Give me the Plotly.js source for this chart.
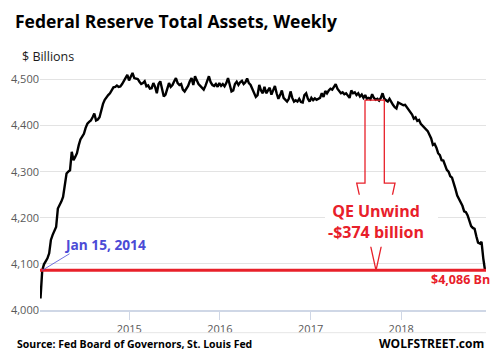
<!DOCTYPE html>
<html>
<head>
<meta charset="utf-8">
<script src="https://cdn.plot.ly/plotly-3.0.1.min.js"></script>
<style>html,body{margin:0;padding:0;background:#fff;}#chart{width:495px;height:358px;}</style>
</head>
<body>
<div id="chart"></div>
<script>
// Weekly Fed total assets ($ billions), Wednesdays starting 2014-01-08
const firstWeek = '2014-01-08';
const totalAssets = [
4025,4086,4099,4105,4112,4123,4152,4163,4172,4180,
4220,4226,4235,4245,4275,4296,4300,4303,4343,4325,
4332,4340,4357,4370,4376,4382,4395,4404,4408,4411,
4418,4426,4411,4413,4418,4436,4447,4456,4462,4466,
4470,4477,4483,4484,4487,4484,4485,4490,4496,4504,
4510,4498,4505,4514,4503,4502,4501,4495,4490,4492,
4496,4485,4487,4480,4481,4492,4484,4470,4490,4496,
4478,4463,4467,4481,4492,4484,4488,4496,4503,4492,
4488,4490,4478,4474,4480,4486,4496,4503,4488,4507,
4498,4490,4486,4481,4478,4486,4496,4507,4494,4488,
4486,4490,4484,4492,4486,4490,4485,4492,4503,4488,
4474,4476,4490,4495,4488,4494,4497,4490,4494,4502,
4492,4488,4478,4470,4462,4466,4488,4476,4470,4484,
4470,4476,4482,4467,4475,4486,4470,4458,4466,4476,
4460,4456,4452,4458,4474,4460,4452,4455,4452,4458,
4451,4450,4466,4470,4458,4452,4460,4455,4459,4456,
4458,4460,4470,4462,4475,4470,4476,4480,4478,4484,
4490,4480,4476,4470,4472,4468,4470,4464,4460,4476,
4470,4472,4466,4470,4463,4467,4460,4466,4458,4460,
4457,4468,4460,4456,4458,4454,4460,4470,4458,4455,
4452,4458,4450,4445,4440,4437,4450,4448,4446,4444,
4445,4440,4436,4430,4424,4415,4418,4410,4412,4404,
4400,4396,4390,4388,4380,4372,4358,4360,4352,4340,
4336,4325,4324,4314,4304,4300,4290,4287,4276,4262,
4248,4240,4232,4226,4214,4212,4205,4192,4182,4178,
4176,4160,4146,4144,4148,4112,4086
];
const yTicks = [4000, 4100, 4200, 4300, 4400, 4500];
const yTickText = ['4,000', '4,100', '4,200', '4,300', '4,400', '4,500'];
const startLabel = 'Jan 15, 2014';
const startDate = '2014-01-15';
const latestLevel = 4086;
const peakLevel = 4455;
const unwindText = 'QE Unwind<br>-$374 billion';
const latestText = '$4,086 Bn';

function addDays(iso, n) {
  const d = new Date(iso + 'T00:00:00Z');
  d.setUTCDate(d.getUTCDate() + n);
  return d.toISOString().slice(0, 10);
}
const weekDates = totalAssets.map((_, i) => addDays(firstWeek, 7 * i));

const RED = '#e8202a';
const FONT = '"Open Sans", "Noto Sans", sans-serif';

const trace = {
  x: weekDates, y: totalAssets, type: 'scatter', mode: 'lines',
  line: {color: '#000000', width: 2.4}, hoverinfo: 'skip'
};

const layout = {
  width: 495, height: 358,
  margin: {l: 40, r: 9, t: 61, b: 48},
  paper_bgcolor: '#ffffff', plot_bgcolor: '#ffffff',
  showlegend: false,
  font: {family: FONT, color: '#595959'},
  title: {
    text: '<b>Federal Reserve Total Assets, Weekly</b>',
    font: {family: FONT, size: 17.5, color: '#000000'},
    x: 15 / 495, xanchor: 'left', xref: 'container',
    y: 1 - 22 / 358, yanchor: 'middle', yref: 'container'
  },
  xaxis: {
    type: 'date', range: ['2014-01-06', '2018-12-09'],
    tick0: '2015-01-01', dtick: 'M12', tickformat: '%Y',
    ticks: 'outside', ticklen: 8, tickcolor: '#cfd7e6', tickwidth: 1,
    showline: true, linecolor: '#cfd7e6', linewidth: 1.5,
    showgrid: false, zeroline: false,
    tickfont: {family: FONT, size: 11, color: '#595959'}
  },
  yaxis: {
    range: [4000, 4540], tickvals: yTicks, ticktext: yTickText,
    showgrid: true, gridcolor: '#e3e3e3', gridwidth: 1,
    zeroline: false, showline: false, ticks: '',
    tickfont: {family: FONT, size: 11, color: '#595959'}
  },
  shapes: [
    {type: 'line', xref: 'paper', yref: 'paper', x0: 0, x1: 1, y0: -0.091, y1: -0.091,
     line: {color: '#e6e6e6', width: 1}, layer: 'above'},
    {type: 'line', xref: 'paper', yref: 'y', x0: 0, x1: 1, y0: latestLevel, y1: latestLevel,
     line: {color: RED, width: 3}, layer: 'above'},
    {type: 'line', xref: 'x', yref: 'y', x0: startDate, y0: latestLevel, x1: '2014-05-05', y1: 4122,
     line: {color: '#4b4bd6', width: 0.8}, layer: 'above'},
    {type: 'path', xref: 'paper', yref: 'y',
     path: 'M0.7287,' + peakLevel + ' L0.7287,4275 L0.7101,4275 L0.7534,' + latestLevel +
           ' L0.7960,4275 L0.7720,4275 L0.7720,' + peakLevel + ' Z',
     line: {color: RED, width: 1.3}, fillcolor: 'rgba(0,0,0,0)', layer: 'above'},
    {type: 'rect', xref: 'paper', yref: 'paper', x0: 0.639, x1: 0.8924, y0: 0.254, y1: 0.463,
     line: {width: 0}, fillcolor: '#ffffff', layer: 'above'}
  ],
  annotations: [
    {text: '$ Billions', xref: 'paper', yref: 'paper', x: -0.0448, y: 1.017,
     xanchor: 'left', yanchor: 'middle', showarrow: false,
     font: {family: FONT, size: 12.5, color: '#1a1a1a'}},
    {text: '<b>' + startLabel + '</b>', xref: 'paper', yref: 'paper', x: 0.0485, y: 0.262,
     xanchor: 'left', yanchor: 'middle', showarrow: false,
     font: {family: FONT, size: 13.7, color: '#4b4bd6'}},
    {text: '<b>' + unwindText + '</b>', xref: 'paper', yref: 'paper', x: 0.7534, y: 0.3546,
     xanchor: 'center', yanchor: 'middle', showarrow: false, align: 'center',
     font: {family: FONT, size: 16, color: RED}},
    {text: '<b>' + latestText + '</b>', xref: 'paper', yref: 'paper', x: 1.0135, y: 0.1217,
     xanchor: 'right', yanchor: 'middle', showarrow: false,
     font: {family: FONT, size: 12.5, color: RED}},
    {text: '<b>Source: Fed Board of Governors, St. Louis Fed</b>', xref: 'paper', yref: 'paper',
     x: -0.056, y: -0.135, xanchor: 'left', yanchor: 'middle', showarrow: false,
     font: {family: FONT, size: 10.5, color: '#000000'}},
    {text: '<b>WOLFSTREET.com</b>', xref: 'paper', yref: 'paper',
     x: 1.0, y: -0.135, xanchor: 'right', yanchor: 'middle', showarrow: false,
     font: {family: FONT, size: 12, color: '#000000'}}
  ]
};

Plotly.newPlot('chart', [trace], layout, {staticPlot: true, displayModeBar: false});
</script>
</body>
</html>
